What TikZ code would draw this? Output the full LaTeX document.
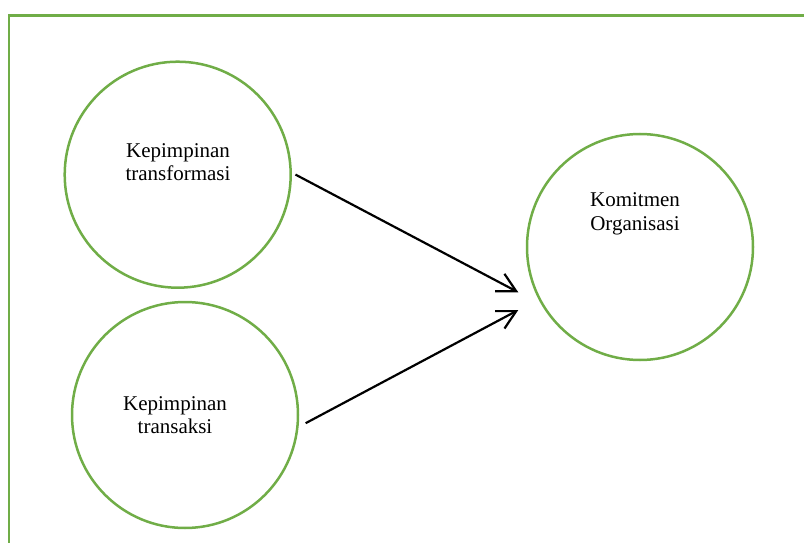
\documentclass[tikz,border=0pt]{standalone}
\usepackage{fontspec}
\setmainfont{Liberation Serif}
\usepackage{xcolor}
\usetikzlibrary{arrows.meta}
\definecolor{hijau}{HTML}{70AD47}

\begin{document}
\begin{tikzpicture}[x=1pt,y=-1pt]
        \tikzstyle{bulat}=[draw=hijau, line width=2.5pt, circle, minimum size=226pt, inner sep=0pt]
        \tikzstyle{teks}=[align=center, inner sep=0pt, font=\fontsize{21}{23.5}\selectfont]
        \tikzstyle{panah}=[line width=2.2pt, -{Straight Barb[angle=56:21pt]}]

        \useasboundingbox (0,0) rectangle (804,543);
        \clip (0,0) rectangle (804,543);

        % bingkai
        \draw[hijau, line width=2.8pt] (9,560) -- (9,15.5) -- (820,15.5);

        \node[bulat] (tf) at (177.7,174.7) {};
        \node[bulat] (ts) at (185,415) {};
        \node[bulat] (ko) at (640,247) {};

        \node[teks] (tf-teks) at (178,162) {Kepimpinan\\transformasi};
        \node[teks] (ts-teks) at (175,415) {Kepimpinan\\transaksi};
        \node[teks] (ko-teks) at (635,214) {Komitmen\\Organisasi};

        \coordinate (T1) at (518.3,292.3);
        \coordinate (T2) at (518.3,310);

        \draw[panah, shorten <=4pt] (tf.1) -- (T1);
        \draw[panah, shorten <=8pt] (ts.-6) -- (T2);
      \end{tikzpicture}
\end{document}
